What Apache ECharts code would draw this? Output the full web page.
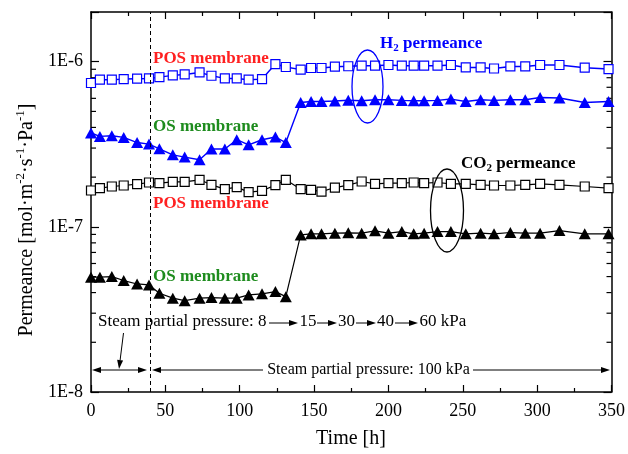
<!DOCTYPE html>
<html><head><meta charset="utf-8">
<script src="https://cdn.jsdelivr.net/npm/echarts@6/dist/echarts.min.js"></script>
<style>html,body{margin:0;padding:0;background:#fff}#c{width:628px;height:454px}</style>
</head><body><div id="c"></div>
<script>
// ---- data ----
const timeH = [0, 6, 14, 22, 31, 39, 46, 55, 63, 73, 81, 90, 98, 106, 115, 124, 131, 141, 148, 155, 164, 173, 182, 191, 200, 209, 217, 224, 233, 242, 252, 262, 271, 282, 292, 302, 315, 332, 348];
const h2POS = [7.43e-7, 7.78e-7, 7.78e-7, 7.85e-7, 7.89e-7, 7.92e-7, 8.07e-7, 8.26e-7, 8.37e-7, 8.61e-7, 8.22e-7, 7.92e-7, 7.92e-7, 7.78e-7, 7.85e-7, 9.68e-7, 9.29e-7, 8.95e-7, 9.16e-7, 9.16e-7, 9.33e-7, 9.39e-7, 9.46e-7, 9.46e-7, 9.55e-7, 9.46e-7, 9.46e-7, 9.46e-7, 9.46e-7, 9.55e-7, 9.23e-7, 9.23e-7, 9.10e-7, 9.36e-7, 9.36e-7, 9.55e-7, 9.55e-7, 9.20e-7, 9.03e-7];
const h2OS = [3.70e-7, 3.53e-7, 3.56e-7, 3.48e-7, 3.24e-7, 3.17e-7, 2.97e-7, 2.73e-7, 2.645e-7, 2.55e-7, 2.96e-7, 2.96e-7, 3.37e-7, 3.14e-7, 3.37e-7, 3.50e-7, 3.24e-7, 5.665e-7, 5.745e-7, 5.745e-7, 5.78e-7, 5.845e-7, 5.80e-7, 5.885e-7, 5.885e-7, 5.83e-7, 5.80e-7, 5.80e-7, 5.83e-7, 5.94e-7, 5.745e-7, 5.885e-7, 5.83e-7, 5.885e-7, 5.885e-7, 6.075e-7, 6.03e-7, 5.665e-7, 5.745e-7];
const co2POS = [1.66e-7, 1.716e-7, 1.755e-7, 1.78e-7, 1.815e-7, 1.856e-7, 1.84e-7, 1.874e-7, 1.874e-7, 1.927e-7, 1.797e-7, 1.692e-7, 1.74e-7, 1.623e-7, 1.653e-7, 1.789e-7, 1.927e-7, 1.692e-7, 1.676e-7, 1.636e-7, 1.73e-7, 1.79e-7, 1.882e-7, 1.823e-7, 1.84e-7, 1.84e-7, 1.856e-7, 1.84e-7, 1.856e-7, 1.823e-7, 1.823e-7, 1.797e-7, 1.78e-7, 1.78e-7, 1.797e-7, 1.823e-7, 1.797e-7, 1.755e-7, 1.716e-7];
const co2OS = [4.96e-8, 4.96e-8, 5.00e-8, 4.73e-8, 4.51e-8, 4.45e-8, 3.965e-8, 3.70e-8, 3.575e-8, 3.70e-8, 3.73e-8, 3.70e-8, 3.70e-8, 3.87e-8, 3.93e-8, 4.055e-8, 3.78e-8, 8.94e-8, 9.07e-8, 9.07e-8, 9.16e-8, 9.20e-8, 9.16e-8, 9.46e-8, 9.16e-8, 9.36e-8, 9.07e-8, 9.16e-8, 9.36e-8, 9.36e-8, 9.07e-8, 9.16e-8, 9.07e-8, 9.24e-8, 9.16e-8, 9.16e-8, 9.50e-8, 9.07e-8, 9.07e-8];
const yMinorTicks = [2e-8, 3e-8, 4e-8, 5e-8, 6e-8, 7e-8, 8e-8, 9e-8, 2e-7, 3e-7, 4e-7, 5e-7, 6e-7, 7e-7, 8e-7, 9e-7];
const steamSwitchH = 40;

// ---- chart ----
const FONT = 'Liberation Serif';
const BLUE = '#0000ff', RED = '#ff2020', GREEN = '#1e8c1e';
const pairs = vals => timeH.map((t, i) => [t, vals[i]]);
const logFmt = v => { const e = Math.log10(v), r = Math.round(e); return Math.abs(e - r) < 1e-6 ? '1E' + r : ''; };

function arrow(x1, y1, x2, y2, hl, hw) {
  hl = hl || 10; hw = hw || 3;
  const dx = x2 - x1, dy = y2 - y1, L = Math.hypot(dx, dy), ux = dx / L, uy = dy / L;
  const bx = x2 - ux * hl, by = y2 - uy * hl;
  return [
    {type: 'line', z: 100, shape: {x1: x1, y1: y1, x2: bx, y2: by}, style: {stroke: '#000', lineWidth: 1}},
    {type: 'polygon', z: 100, shape: {points: [[x2, y2], [bx - uy * hw, by + ux * hw], [bx + uy * hw, by - ux * hw]]}, style: {fill: '#000'}}
  ];
}
function txt(x, y, text, opts) {
  return {type: 'text', z: 100, x: x, y: y, style: Object.assign({text: text, fontFamily: FONT, fontSize: 16, fill: '#000', align: 'left', verticalAlign: 'middle'}, opts || {})};
}

const graphics = [
  txt(153, 59, 'POS membrane', {fill: RED, fontWeight: 'bold', fontSize: 17}),
  txt(153, 127, 'OS membrane', {fill: GREEN, fontWeight: 'bold', fontSize: 17}),
  txt(153, 204, 'POS membrane', {fill: RED, fontWeight: 'bold', fontSize: 17}),
  txt(153, 277, 'OS membrane', {fill: GREEN, fontWeight: 'bold', fontSize: 17}),
  txt(380, 44, '{a|H}{b|2}{a| permeance}', {rich: {
    a: {fontFamily: FONT, fontSize: 17, fontWeight: 'bold', fill: BLUE, lineHeight: 20, verticalAlign: 'middle'},
    b: {fontFamily: FONT, fontSize: 11, fontWeight: 'bold', fill: BLUE, lineHeight: 20, verticalAlign: 'bottom'}}}),
  txt(461, 164, '{a|CO}{b|2}{a| permeance}', {rich: {
    a: {fontFamily: FONT, fontSize: 17, fontWeight: 'bold', fill: '#000', lineHeight: 20, verticalAlign: 'middle'},
    b: {fontFamily: FONT, fontSize: 11, fontWeight: 'bold', fill: '#000', lineHeight: 20, verticalAlign: 'bottom'}}}),
  {type: 'ellipse', z: 100, shape: {cx: 367.5, cy: 86.5, rx: 15.5, ry: 36.5}, style: {fill: 'none', stroke: BLUE, lineWidth: 1.3}},
  {type: 'ellipse', z: 100, shape: {cx: 447, cy: 210.5, rx: 16.5, ry: 41.5}, style: {fill: 'none', stroke: '#000', lineWidth: 1.3}},
  // steam pressure annotations
  txt(98, 322, 'Steam partial pressure: 8', {fontSize: 17}),
  txt(299.5, 322, '15', {fontSize: 17}),
  txt(338, 322, '30', {fontSize: 17}),
  txt(377, 322, '40', {fontSize: 17}),
  txt(419.5, 322, '60 kPa', {fontSize: 17}),
  ...arrow(269, 323, 298, 323, 9, 3),
  ...arrow(317, 323, 337, 323, 9, 3),
  ...arrow(356, 323, 376, 323, 9, 3),
  ...arrow(395, 323, 418, 323, 9, 3),
  ...arrow(123.5, 333, 119, 369, 9, 3),
  ...arrow(119, 370, 92, 370, 9, 3),
  ...arrow(119, 370, 147, 370, 9, 3),
  ...arrow(263, 370, 152, 370, 9, 3),
  ...arrow(473, 370, 610, 370, 9, 3),
  txt(368.5, 370, 'Steam partial pressure: 100 kPa', {align: 'center'}),
  // axis titles
  txt(351, 439, 'Time [h]', {align: 'center', fontSize: 20}),
  {type: 'text', z: 100, x: 27, y: 220, rotation: Math.PI / 2, style: {
    text: '{n|Permeance [mol·m}{s|-2}{n|·s}{s|-1}{n|·Pa}{s|-1}{n|]}', align: 'center', verticalAlign: 'middle',
    rich: {
      n: {fontFamily: FONT, fontSize: 20, fill: '#000', lineHeight: 26, verticalAlign: 'middle'},
      s: {fontFamily: FONT, fontSize: 13, fill: '#000', lineHeight: 26, verticalAlign: 'top'}
    }}}
];

const axisLineStyle = {color: '#000', width: 1.5};
const tickStyle = {color: '#000', width: 1.2};

const option = {
  animation: false,
  backgroundColor: '#fff',
  grid: {left: 91, right: 16, top: 12, bottom: 62, containLabel: false},
  xAxis: [
    {type: 'value', min: 0, max: 350, interval: 50, position: 'bottom',
     axisLine: {show: true, onZero: false, lineStyle: axisLineStyle}, axisTick: {inside: true, length: 7, lineStyle: tickStyle},
     minorTick: {show: true, splitNumber: 2, length: 4, lineStyle: tickStyle},
     axisLabel: {fontFamily: FONT, fontSize: 18, color: '#000', margin: 10},
     splitLine: {show: false}},
    {type: 'value', min: 0, max: 350, interval: 50, position: 'top',
     axisLine: {show: true, onZero: false, lineStyle: axisLineStyle}, axisTick: {inside: true, length: 7, lineStyle: tickStyle},
     minorTick: {show: true, splitNumber: 2, length: 4, lineStyle: tickStyle},
     axisLabel: {show: false}, splitLine: {show: false}}
  ],
  yAxis: [
    {type: 'log', logBase: 10, min: 1e-8, max: 2e-6, position: 'left',
     axisLine: {show: true, onZero: false, lineStyle: axisLineStyle}, axisTick: {inside: true, length: 8, lineStyle: tickStyle},
     axisLabel: {fontFamily: FONT, fontSize: 18, color: '#000', margin: 8, formatter: logFmt},
     splitLine: {show: false}},
    {type: 'log', logBase: 10, min: 1e-8, max: 2e-6, position: 'right',
     axisLine: {show: true, onZero: false, lineStyle: axisLineStyle}, axisTick: {inside: true, length: 8, lineStyle: tickStyle},
     axisLabel: {show: false}, splitLine: {show: false}}
  ],
  series: [
    {type: 'custom', silent: true, xAxisIndex: 0, yAxisIndex: 0, clip: false,
     data: yMinorTicks.map(v => [0, v]),
     renderItem: (params, api) => {
       const v = api.value(1);
       const pL = api.coord([0, v]), pR = api.coord([350, v]);
       return {type: 'group', children: [
         {type: 'line', shape: {x1: pL[0], y1: pL[1], x2: pL[0] + 5, y2: pL[1]}, style: {stroke: '#000', lineWidth: 1.2}},
         {type: 'line', shape: {x1: pR[0] - 5, y1: pR[1], x2: pR[0], y2: pR[1]}, style: {stroke: '#000', lineWidth: 1.2}}
       ]};
     }},
    {type: 'line', name: 'H2 POS', data: pairs(h2POS), symbol: 'rect', symbolSize: 9, showAllSymbol: true,
     itemStyle: {color: '#fff', borderColor: BLUE, borderWidth: 1.2}, lineStyle: {color: BLUE, width: 1.4}, z: 3},
    {type: 'line', name: 'H2 OS', data: pairs(h2OS), symbol: 'triangle', symbolSize: [12, 11], showAllSymbol: true,
     itemStyle: {color: BLUE}, lineStyle: {color: BLUE, width: 1.4}, z: 3},
    {type: 'line', name: 'CO2 POS', data: pairs(co2POS), symbol: 'rect', symbolSize: 9, showAllSymbol: true,
     itemStyle: {color: '#fff', borderColor: '#000', borderWidth: 1.2}, lineStyle: {color: '#000', width: 1.2}, z: 3},
    {type: 'line', name: 'CO2 OS', data: pairs(co2OS), symbol: 'triangle', symbolSize: [12, 11], showAllSymbol: true,
     itemStyle: {color: '#000'}, lineStyle: {color: '#000', width: 1.2}, z: 3,
     markLine: {silent: true, symbol: ['none', 'none'], label: {show: false},
       lineStyle: {type: [4, 3], color: '#000', width: 1}, data: [{xAxis: steamSwitchH}]}}
  ],
  graphic: graphics
};
const chart = echarts.init(document.getElementById('c'), null, {renderer: 'canvas'});
chart.setOption(option);
</script>
</body></html>
